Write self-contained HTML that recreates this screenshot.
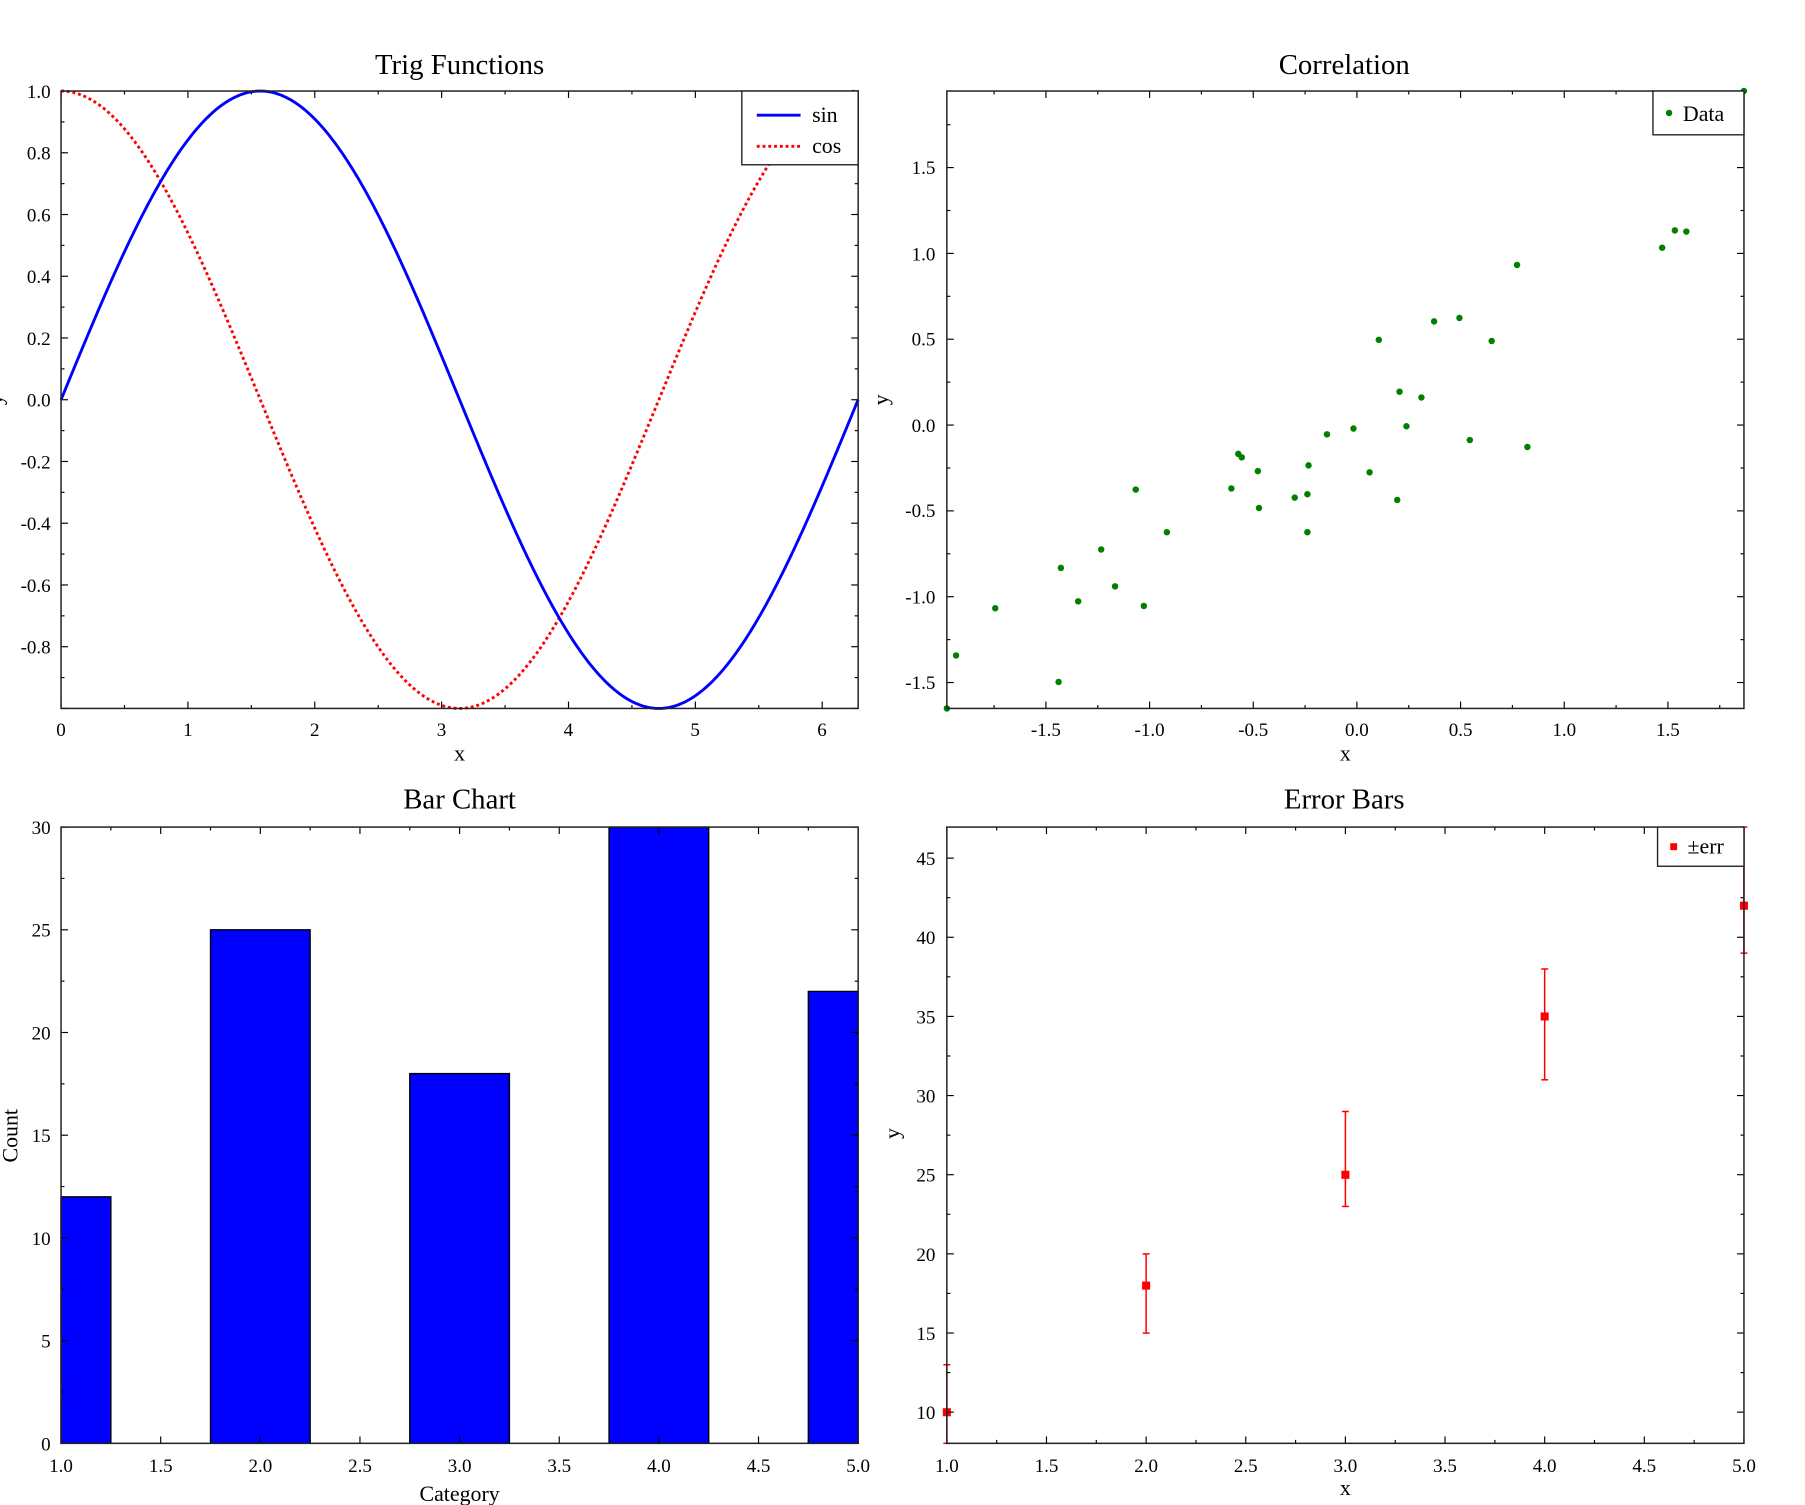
<!DOCTYPE html>
<html><head><meta charset="utf-8"><style>
html,body{margin:0;padding:0;background:#fff;}
svg{display:block;}
text{font-family:"Liberation Serif",serif;fill:#000;}
.t{font-size:16.5px;}
.ttl{font-size:25px;text-anchor:middle;}
.lab{font-size:19px;text-anchor:middle;}
.r{text-anchor:end;}
.m{text-anchor:middle;}
</style></head><body>
<svg id="s" width="1805" height="1505" viewBox="0 0 1567 1306.5" xmlns="http://www.w3.org/2000/svg">
<rect width="1567" height="1306.5" fill="#fff"/>
<g id="data"></g>
<g id="ticks" stroke="#000" stroke-width="1"></g>
<g fill="none" stroke="#222" stroke-width="1.3">
<rect x="53" y="79" width="692" height="536"/>
<rect x="822" y="79" width="692" height="536"/>
<rect x="53" y="718" width="692" height="535"/>
<rect x="822" y="718" width="692" height="535"/>
</g>
<text class="ttl" x="399" y="64">Trig Functions</text>
<text class="ttl" x="1167" y="64">Correlation</text>
<text class="ttl" x="399" y="702">Bar Chart</text>
<text class="ttl" x="1167" y="702">Error Bars</text>
<text class="lab" x="399" y="660">x</text>
<text class="lab" x="1168" y="660">x</text>
<text class="lab" x="399" y="1303">Category</text>
<text class="lab" x="1168" y="1298">x</text>
<text class="lab" transform="translate(2,347) rotate(-90)">y</text>
<text class="lab" transform="translate(771,347) rotate(-90)">y</text>
<text class="lab" transform="translate(15,986) rotate(-90)">Count</text>
<text class="lab" transform="translate(781,984) rotate(-90)">y</text>
<g class="t">
<text class="r" x="44" y="85">1.0</text>
<text class="r" x="44" y="138.6">0.8</text>
<text class="r" x="44" y="192.2">0.6</text>
<text class="r" x="44" y="245.8">0.4</text>
<text class="r" x="44" y="299.4">0.2</text>
<text class="r" x="44" y="353">0.0</text>
<text class="r" x="44" y="406.6">-0.2</text>
<text class="r" x="44" y="460.2">-0.4</text>
<text class="r" x="44" y="513.8">-0.6</text>
<text class="r" x="44" y="567.4">-0.8</text>
<text class="m" x="53" y="639">0</text>
<text class="m" x="163.1" y="639">1</text>
<text class="m" x="273.2" y="639">2</text>
<text class="m" x="383.3" y="639">3</text>
<text class="m" x="493.4" y="639">4</text>
<text class="m" x="603.5" y="639">5</text>
<text class="m" x="713.6" y="639">6</text>
<text class="r" x="812" y="151">1.5</text>
<text class="r" x="812" y="226">1.0</text>
<text class="r" x="812" y="300">0.5</text>
<text class="r" x="812" y="375">0.0</text>
<text class="r" x="812" y="449">-0.5</text>
<text class="r" x="812" y="524">-1.0</text>
<text class="r" x="812" y="598">-1.5</text>
<text class="m" x="908" y="639">-1.5</text>
<text class="m" x="998" y="639">-1.0</text>
<text class="m" x="1088" y="639">-0.5</text>
<text class="m" x="1178" y="639">0.0</text>
<text class="m" x="1268" y="639">0.5</text>
<text class="m" x="1358" y="639">1.0</text>
<text class="m" x="1448" y="639">1.5</text>
<text class="r" x="44" y="1259">0</text>
<text class="r" x="44" y="1169.8">5</text>
<text class="r" x="44" y="1080.7">10</text>
<text class="r" x="44" y="991.5">15</text>
<text class="r" x="44" y="902.3">20</text>
<text class="r" x="44" y="813.2">25</text>
<text class="r" x="44" y="724">30</text>
<text class="m" x="53" y="1278">1.0</text>
<text class="m" x="139.5" y="1278">1.5</text>
<text class="m" x="226" y="1278">2.0</text>
<text class="m" x="312.5" y="1278">2.5</text>
<text class="m" x="399" y="1278">3.0</text>
<text class="m" x="485.5" y="1278">3.5</text>
<text class="m" x="572" y="1278">4.0</text>
<text class="m" x="658.5" y="1278">4.5</text>
<text class="m" x="745" y="1278">5.0</text>
<text class="r" x="812" y="1232">10</text>
<text class="r" x="812" y="1163.3">15</text>
<text class="r" x="812" y="1094.6">20</text>
<text class="r" x="812" y="1025.9">25</text>
<text class="r" x="812" y="957.1">30</text>
<text class="r" x="812" y="888.4">35</text>
<text class="r" x="812" y="819.7">40</text>
<text class="r" x="812" y="751">45</text>
<text class="m" x="822" y="1278">1.0</text>
<text class="m" x="908.5" y="1278">1.5</text>
<text class="m" x="995" y="1278">2.0</text>
<text class="m" x="1081.5" y="1278">2.5</text>
<text class="m" x="1168" y="1278">3.0</text>
<text class="m" x="1254.5" y="1278">3.5</text>
<text class="m" x="1341" y="1278">4.0</text>
<text class="m" x="1427.5" y="1278">4.5</text>
<text class="m" x="1514" y="1278">5.0</text>
</g>
<rect x="644" y="79" width="101" height="64" fill="#fff" stroke="#222" stroke-width="1.2"/>
<line x1="657" y1="100" x2="695" y2="100" stroke="#00f" stroke-width="2.5"/>
<line x1="657" y1="127" x2="695" y2="127" stroke="#f00" stroke-width="2.5" stroke-dasharray="2.5,2.5"/>
<text x="705" y="106" style="font-size:19px">sin</text>
<text x="705" y="133" style="font-size:19px">cos</text>
<rect x="1435" y="79" width="79" height="38" fill="#fff" stroke="#222" stroke-width="1.2"/>
<circle cx="1449" cy="98" r="2.8" fill="#008000"/>
<text x="1461" y="105" style="font-size:19px">Data</text>
<rect x="1439" y="718" width="75" height="34" fill="#fff" stroke="#222" stroke-width="1.2"/>
<rect x="1450" y="732" width="6" height="6" fill="#f00"/>
<text x="1465" y="741" style="font-size:19px">±err</text>
</svg>
<script>
var NS="http://www.w3.org/2000/svg";
function el(p,t,a){var e=document.createElementNS(NS,t);for(var k in a)e.setAttribute(k,a[k]);p.appendChild(e);return e;}
var D=document.getElementById('data'),T=document.getElementById('ticks');
var sp=[],cp=[];
for(var i=0;i<=400;i++){var x=i/400*2*Math.PI;var px=53+x*110.13;sp.push(px.toFixed(2)+","+(347-Math.sin(x)*268).toFixed(2));cp.push(px.toFixed(2)+","+(347-Math.cos(x)*268).toFixed(2));}
el(D,'polyline',{points:cp.join(' '),fill:'none',stroke:'#f00','stroke-width':2.5,'stroke-dasharray':'2.5,2.5'});
el(D,'polyline',{points:sp.join(' '),fill:'none',stroke:'#00f','stroke-width':2.5});
var pts=[[822,615],[830,569],[864,528],[919,592],[921,493],[936,522],[956,477],[968,509],[986,425],[993,526],[1013,462],[1069,424],[1075,394],[1078,397],[1092,409],[1093,441],[1124,432],[1135,429],[1136,404],[1135,462],[1152,377],[1175,372],[1189,410],[1197,295],[1213,434],[1215,340],[1221,370],[1234,345],[1245,279],[1267,276],[1276,382],[1295,296],[1317,230],[1326,388],[1443,215],[1454,200],[1464,201],[1514,79]];
pts.forEach(function(p){el(D,'circle',{cx:p[0],cy:p[1],r:2.8,fill:'#008000'});});
[[1,12],[2,25],[3,18],[4,30],[5,22]].forEach(function(b){var x0=Math.max(1,b[0]-0.25),x1=Math.min(5,b[0]+0.25);var X0=53+(x0-1)*173,X1=53+(x1-1)*173;var Y=1253-b[1]*17.833;el(D,'rect',{x:X0,y:Y,width:X1-X0,height:1253-Y,fill:'#00f',stroke:'#000','stroke-width':1.2});});
function ey(v){return 1226-(v-10)*13.743;}
[[1,10,7,13],[2,18,15,20],[3,25,23,29],[4,35,31,38],[5,42,39,48]].forEach(function(e){var X=822+(e[0]-1)*173;var lo=Math.min(1253,ey(e[2])),hi=Math.max(718,ey(e[3]));el(D,'line',{x1:X,x2:X,y1:lo,y2:hi,stroke:'#f00','stroke-width':1.3});el(D,'line',{x1:X-3,x2:X+3,y1:lo,y2:lo,stroke:'#f00','stroke-width':1.3});el(D,'line',{x1:X-3,x2:X+3,y1:hi,y2:hi,stroke:'#f00','stroke-width':1.3});el(D,'rect',{x:X-3.5,y:ey(e[1])-3.5,width:7,height:7,fill:'#f00'});});
function xt(x0,x1,y0,y1,vmin,vmax,step,minor){
 var s=Math.ceil(vmin/minor-1e-6);
 for(var k=s;k*minor<=vmax+1e-6;k++){var v=k*minor;var X=x0+(v-vmin)/(vmax-vmin)*(x1-x0);var maj=Math.abs(v/step-Math.round(v/step))<1e-6;var L=maj?6:3;el(T,'line',{x1:X,x2:X,y1:y1,y2:y1-L});el(T,'line',{x1:X,x2:X,y1:y0,y2:y0+L});}
}
function yt(x0,x1,y0,y1,vmin,vmax,step,minor){
 var s=Math.ceil(vmin/minor-1e-6);
 for(var k=s;k*minor<=vmax+1e-6;k++){var v=k*minor;var Y=y1-(v-vmin)/(vmax-vmin)*(y1-y0);var maj=Math.abs(v/step-Math.round(v/step))<1e-6;var L=maj?6:3;el(T,'line',{x1:x0,x2:x0+L,y1:Y,y2:Y});el(T,'line',{x1:x1,x2:x1-L,y1:Y,y2:Y});}
}
xt(53,745,79,615,0,2*Math.PI,1,0.5);yt(53,745,79,615,-1,1,0.2,0.1);
xt(822,1514,79,615,-1.9778,1.8667,0.5,0.25);yt(822,1514,79,615,-1.651,1.946,0.5,0.25);
xt(53,745,718,1253,1,5,0.5,0.25);yt(53,745,718,1253,0,30,5,2.5);
xt(822,1514,718,1253,1,5,0.5,0.25);yt(822,1514,718,1253,8.03,46.96,5,2.5);
</script>
</body></html>
